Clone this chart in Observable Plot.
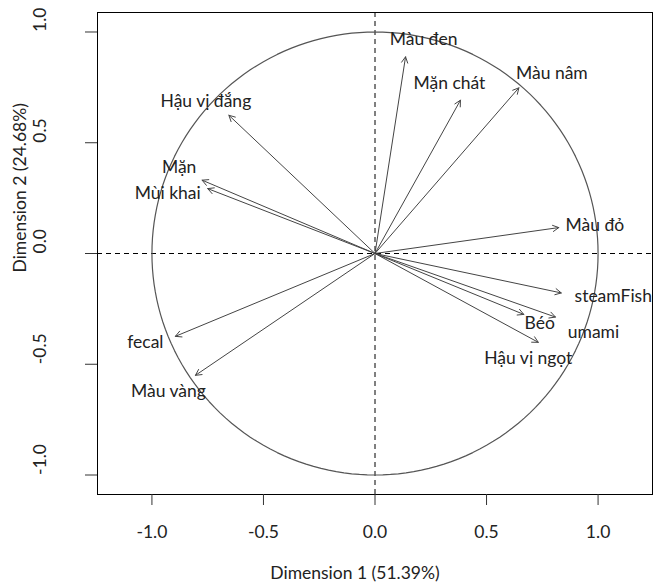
<!DOCTYPE html>
<html>
<head>
<meta charset="utf-8">
<script src="https://cdn.jsdelivr.net/npm/d3@7"></script>
<script src="https://cdn.jsdelivr.net/npm/@observablehq/plot@0.6"></script>
<style>
  html, body { margin: 0; padding: 0; background: #fff; }
  #chart svg { display: block; }
</style>
</head>
<body>
<div id="chart"></div>
<script>
// Variable names and coordinates on the first two dimensions
const varNames = ["Màu đen", "Mặn chát", "Màu nâm", "Màu đỏ", "steamFish", "umami", "Béo",
  "Hậu vị ngọt", "Hậu vị đắng", "Mặn", "Mùi khai", "fecal", "Màu vàng"];
const dim1 = [0.137, 0.383, 0.645, 0.824, 0.835, 0.809, 0.667, 0.732, -0.655, -0.775, -0.750, -0.895, -0.805];
const dim2 = [0.888, 0.692, 0.748, 0.117, -0.178, -0.287, -0.275, -0.401, 0.624, 0.331, 0.293, -0.374, -0.550];
const axisTicks = [-1, -0.5, 0, 0.5, 1];
const xTitle = "Dimension 1 (51.39%)";
const yTitle = "Dimension 2 (24.68%)";

// label offsets (pixels) relative to arrow tips
const labelDx = [18, -11, 33, 36, 52, 38, 16, -10, -23, -23, -40, -30, -27];
const labelDy = [-17, -17, -14, -2, 3, 15, 9, 16, -14, -13, 5, 6, 16];

const rows = varNames.map((name, i) => ({name, x: dim1[i], y: dim2[i], dx: labelDx[i], dy: labelDy[i]}));
const circle = d3.range(0, 361, 2).map(a => ({x: Math.cos(a * Math.PI / 180), y: Math.sin(a * Math.PI / 180)}));
const fmt = d => d.toFixed(1);

const chart = Plot.plot({
  width: 653,
  height: 587,
  marginLeft: 97,
  marginRight: 1,
  marginTop: 12,
  marginBottom: 93,
  style: {fontFamily: "Lato, sans-serif", fontSize: "17.5px", color: "#222", background: "#fff"},
  x: {domain: [-1.244, 1.244]},
  y: {domain: [-1.088, 1.088]},
  marks: [
    Plot.ruleX([0], {stroke: "#000", strokeDasharray: "5,4"}),
    Plot.ruleY([0], {stroke: "#000", strokeDasharray: "5,4"}),
    Plot.line(circle, {x: "x", y: "y", stroke: "#555", strokeWidth: 1.2}),
    Plot.arrow(rows, {x1: 0, y1: 0, x2: "x", y2: "y", stroke: "#444", strokeWidth: 1, headLength: 10, headAngle: 55}),
    ...rows.map(r => Plot.text([r], {x: "x", y: "y", text: "name", dx: r.dx, dy: r.dy, fill: "#222"})),
    Plot.frame({stroke: "#000"}),
    Plot.axisX({ticks: axisTicks, tickFormat: fmt, tickSize: 11, tickPadding: 20, label: null, stroke: "#333"}),
    Plot.axisY({ticks: axisTicks, tickFormat: () => "", tickSize: 12, label: null, stroke: "#333"}),
    Plot.text(axisTicks, {y: d => d, text: fmt, frameAnchor: "left", dx: -57, rotate: -90, fill: "#222"}),
    Plot.text([xTitle], {frameAnchor: "bottom", dx: -20, dy: 84, fill: "#222"}),
    Plot.text([yTitle], {frameAnchor: "left", dx: -77, dy: 19, rotate: -90, fill: "#222"})
  ]
});
document.getElementById("chart").appendChild(chart);
</script>
</body>
</html>
